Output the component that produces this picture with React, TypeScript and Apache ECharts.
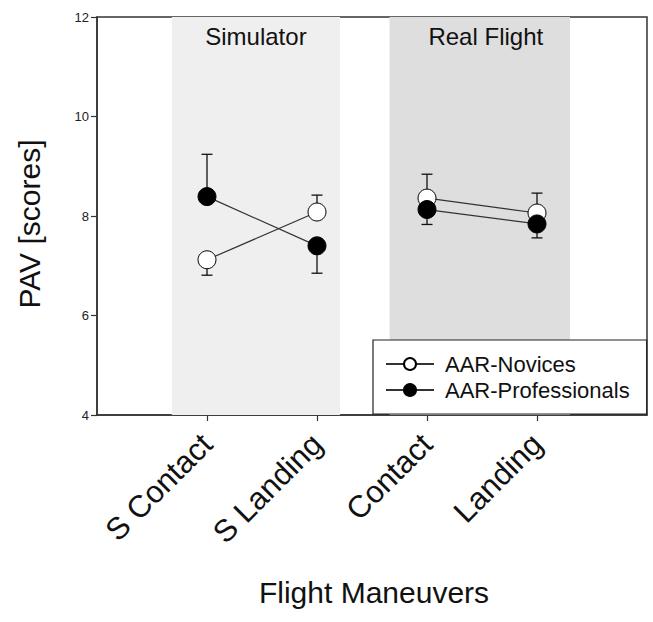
import React, { useEffect, useRef } from 'react';
import * as echarts from 'echarts';

const categories = ['S Contact', 'S Landing', 'Contact', 'Landing'];
const xPositions = [1, 2, 3, 4];
const segments = [[0, 1], [2, 3]];

const novices = [7.12, 8.08, 8.36, 8.06];
const novicesSE = [0.31, 0.34, 0.48, 0.4];
const novicesErrDir = [-1, 1, 1, 1];

const professionals = [8.39, 7.4, 8.13, 7.84];
const professionalsSE = [0.85, 0.55, 0.3, 0.28];
const professionalsErrDir = [1, -1, -1, -1];

const panelNames = ['Simulator', 'Real Flight'];
const panelFrom = [0.68, 2.66];
const panelTo = [2.21, 4.3];

const yMin = 4;
const yMax = 12;
const yInterval = 2;
const xMin = 0;
const xMax = 5;

const FONT = "'Liberation Sans', Arial, sans-serif";

export default function App() {
  const ref = useRef<HTMLDivElement>(null);
  useEffect(() => {
    document.body.style.margin = '0';
    const chart = echarts.init(ref.current!, null, { renderer: 'svg' });

    const panelColors = ['#efefef', '#dedede'];
    const panelLabelOffsets = [[0, 0], [6, 0]];

    const makeLineSeries = (name: string, values: number[], fill: string, z: number) =>
      segments.map((seg) => ({
        type: 'line',
        name,
        z,
        data: seg.map((i) => [xPositions[i], values[i]]),
        symbol: 'circle',
        symbolSize: 18,
        itemStyle: { color: fill, borderColor: '#000', borderWidth: 1 },
        lineStyle: { color: '#333', width: 1.2 },
        emphasis: { disabled: true },
        silent: true,
      }));

    const errData = (values: number[], se: number[], dir: number[]) =>
      values.map((v, i) => [xPositions[i], v, se[i], dir[i]]);

    const errorSeries = (data: number[][], z: number) => ({
      type: 'custom',
      z,
      silent: true,
      data,
      encode: { x: 0, y: 1 },
      renderItem: (_params: any, api: any) => {
        const x = api.value(0);
        const y = api.value(1);
        const e = api.value(2);
        const d = api.value(3);
        const p0 = api.coord([x, y]);
        const p1 = api.coord([x, y + d * e]);
        const style = { stroke: '#111', lineWidth: 1.3 };
        return {
          type: 'group',
          children: [
            { type: 'line', shape: { x1: p0[0], y1: p0[1], x2: p1[0], y2: p1[1] }, style },
            { type: 'line', shape: { x1: p1[0] - 5.5, y1: p1[1], x2: p1[0] + 5.5, y2: p1[1] }, style },
          ],
        };
      },
    });

    const option: any = {
      animation: false,
      textStyle: { fontFamily: FONT },
      grid: {
        left: 97,
        right: 6,
        top: 17,
        bottom: 207,
        show: true,
        borderColor: '#333',
        borderWidth: 1.5,
        backgroundColor: 'transparent',
      },
      xAxis: {
        type: 'value',
        min: xMin,
        max: xMax,
        interval: 1,
        splitLine: { show: false },
        axisLine: { lineStyle: { color: '#333', width: 1.5 } },
        axisTick: { customValues: xPositions, length: 6, lineStyle: { color: '#333', width: 1.2 } },
        axisLabel: {
          customValues: xPositions,
          formatter: (v: number) => categories[xPositions.indexOf(v)] ?? '',
          rotate: 45,
          fontSize: 31,
          color: '#111',
          margin: 24,
          fontFamily: FONT,
        },
      },
      yAxis: {
        type: 'value',
        min: yMin,
        max: yMax,
        interval: yInterval,
        splitLine: { show: false },
        axisLine: { show: true, lineStyle: { color: '#333', width: 1.5 } },
        axisTick: { show: true, length: 6, lineStyle: { color: '#333', width: 1.2 } },
        axisLabel: { fontSize: 13, color: '#222', margin: 8, fontFamily: FONT },
      },
      legend: {
        data: ['AAR-Novices', 'AAR-Professionals'],
        orient: 'vertical',
        left: 373,
        top: 340,
        backgroundColor: '#fff',
        borderColor: '#222',
        borderWidth: 1.2,
        borderRadius: 0,
        padding: [13, 17, 13, 12],
        itemWidth: 48,
        itemHeight: 15,
        itemGap: 4,
        selectedMode: false,
        textStyle: { fontSize: 22, color: '#111', fontFamily: FONT, padding: [0, 0, 0, 6] },
      },
      graphic: [
        {
          type: 'text',
          x: 29,
          y: 224,
          rotation: Math.PI / 2,
          style: {
            text: 'PAV [scores]',
            fontSize: 30,
            fontFamily: FONT,
            fill: '#111',
            align: 'center',
            verticalAlign: 'middle',
          },
        },
        {
          type: 'text',
          x: 374,
          y: 592,
          style: {
            text: 'Flight Maneuvers',
            fontSize: 30,
            fontFamily: FONT,
            fill: '#111',
            align: 'center',
            verticalAlign: 'middle',
          },
        },
      ],
      series: [
        {
          type: 'line',
          z: 1,
          data: [],
          silent: true,
          markArea: {
            silent: true,
            data: panelNames.map((name, i) => [
              {
                name,
                xAxis: panelFrom[i],
                yAxis: yMin,
                itemStyle: { color: panelColors[i] },
                label: {
                  show: true,
                  position: 'insideTop',
                  distance: 7,
                  offset: panelLabelOffsets[i],
                  fontSize: 24,
                  color: '#111',
                  fontFamily: FONT,
                },
              },
              { xAxis: panelTo[i], yAxis: yMax },
            ]),
          },
        },
        errorSeries(errData(novices, novicesSE, novicesErrDir), 2),
        ...makeLineSeries('AAR-Novices', novices, '#fff', 3),
        errorSeries(errData(professionals, professionalsSE, professionalsErrDir), 4),
        ...makeLineSeries('AAR-Professionals', professionals, '#000', 5),
      ],
    };

    chart.setOption(option);
    return () => chart.dispose();
  }, []);

  return <div ref={ref} style={{ width: 653, height: 622 }} />;
}
